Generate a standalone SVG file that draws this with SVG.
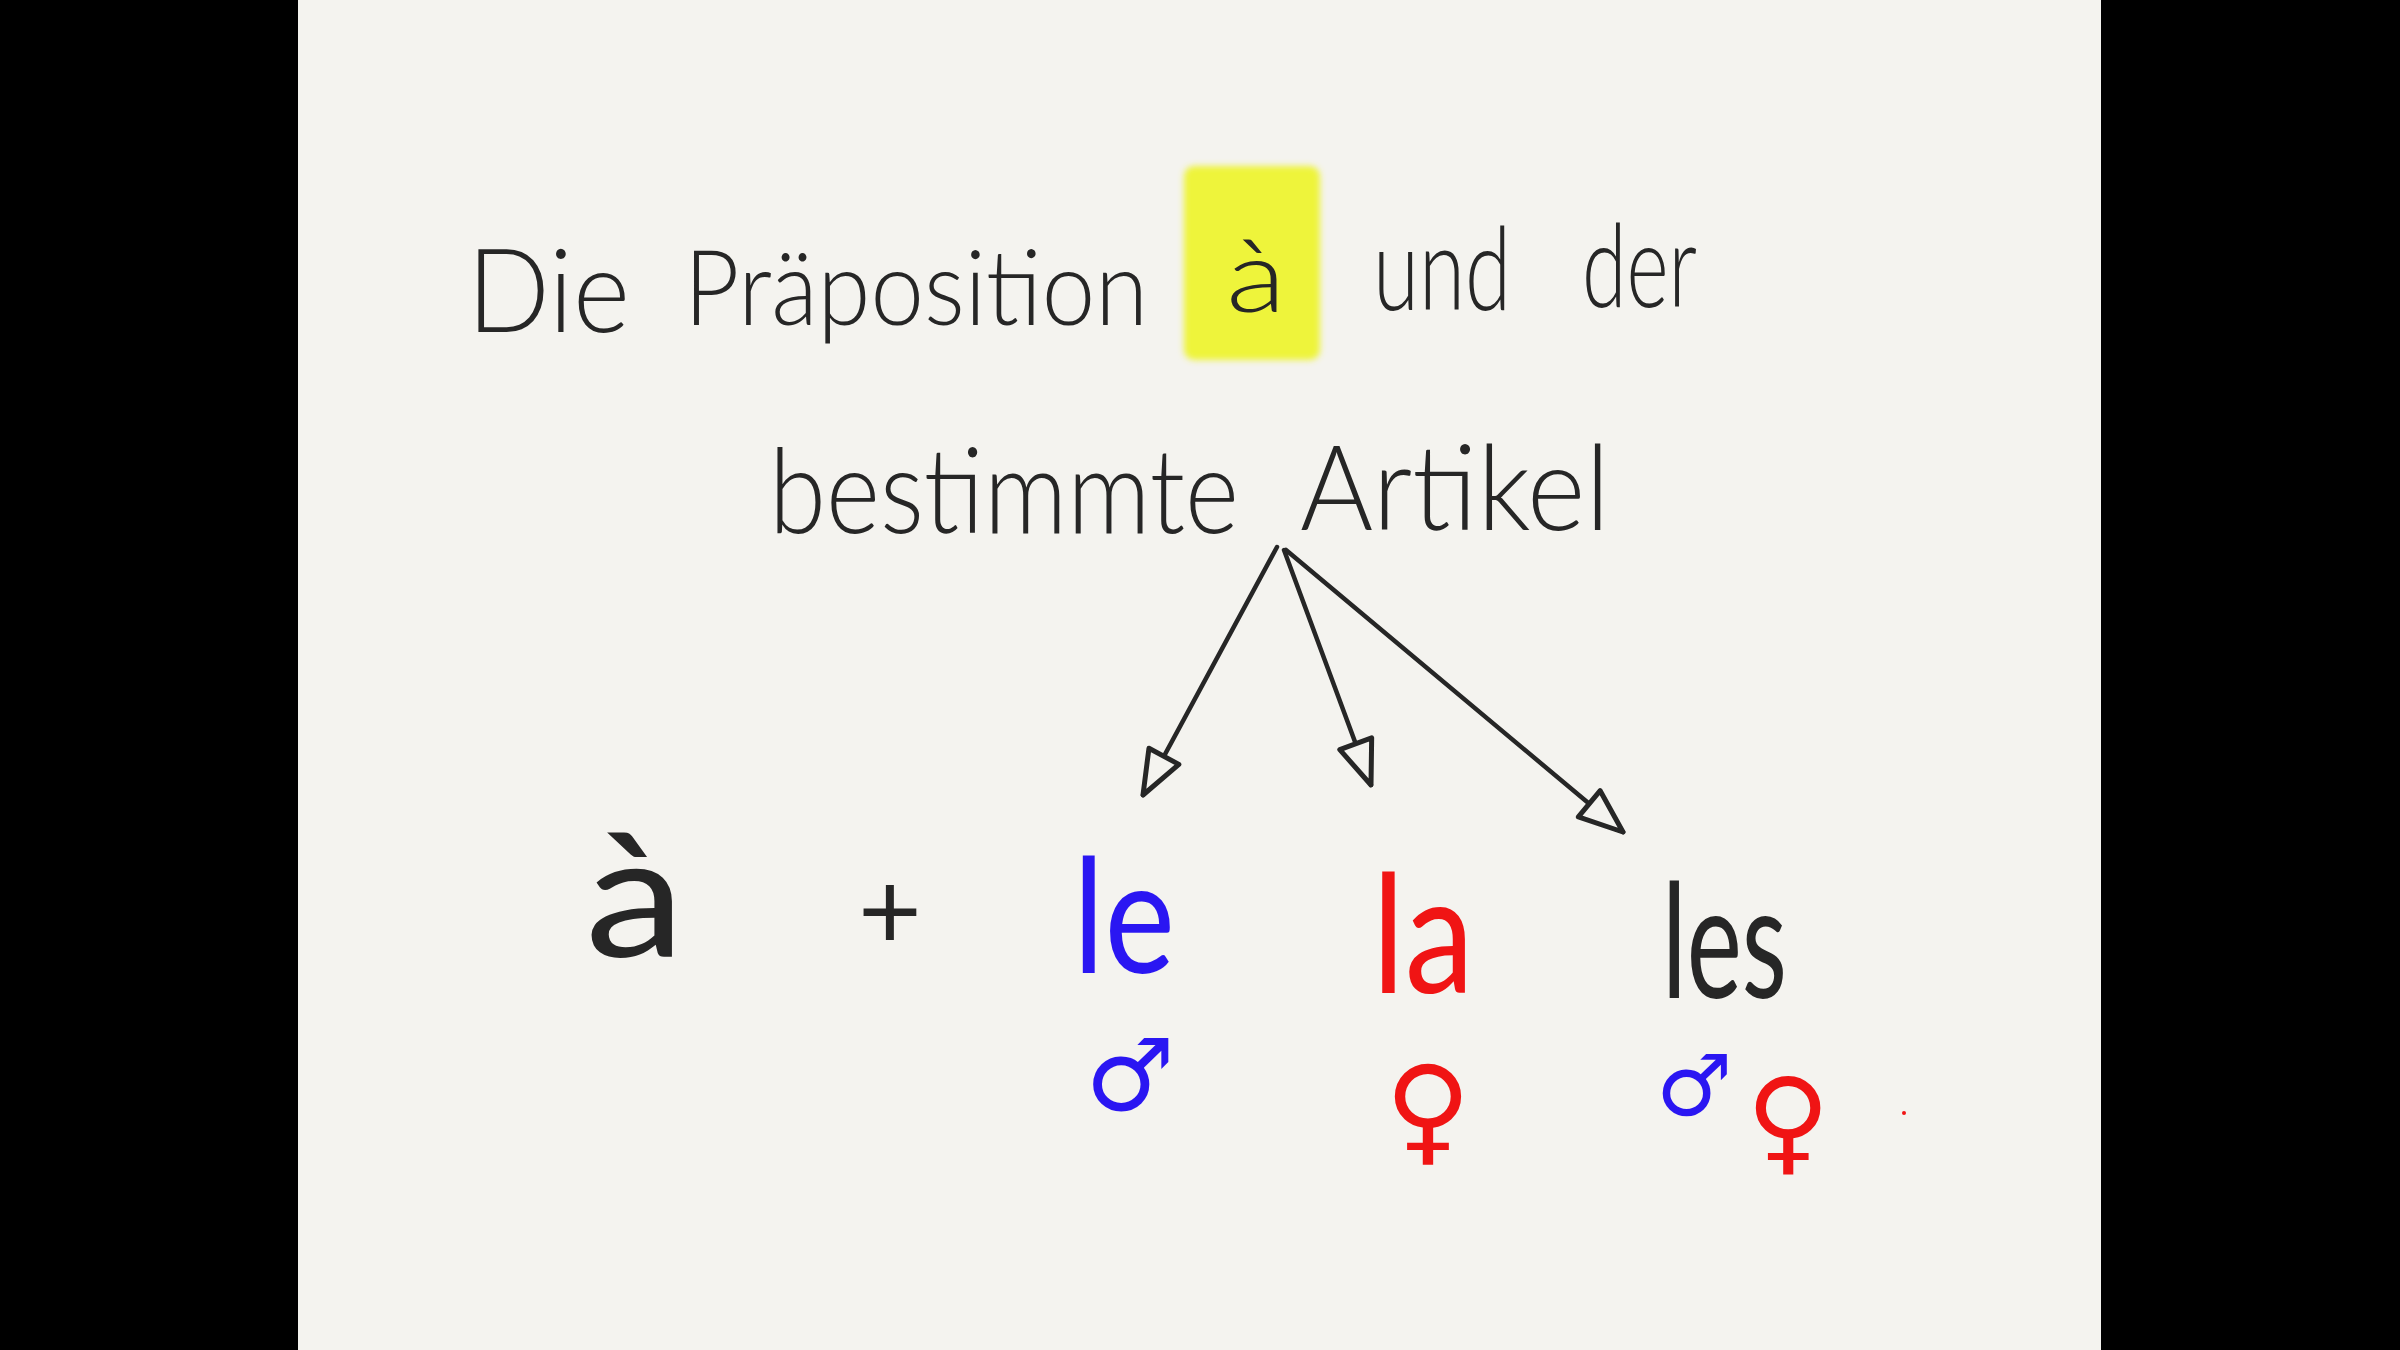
<svg xmlns="http://www.w3.org/2000/svg" width="2400" height="1350" viewBox="0 0 2400 1350">
  <defs>
    <style>
      .hand { font-family: "Lato", "Open Sans", "Liberation Sans", sans-serif; font-weight: 300; fill: #262626; }
      .big { font-family: "Lato", "Open Sans", "Liberation Sans", sans-serif; font-weight: 400; }
      .ink { fill: #262626; }
      .blue { fill: #2a16f2; }
      .red { fill: #f01414; }
      .sym { font-family: "DejaVu Sans", "Noto Sans", sans-serif; }
      .conn { stroke: #262626; stroke-width: 4.5; fill: none; stroke-linecap: round; }
    </style>
    <marker id="openTri" markerUnits="userSpaceOnUse" viewBox="-50 -25 56 50" refX="0" refY="0" markerWidth="56" markerHeight="50" orient="auto" overflow="visible">
      <path d="M-44,-17 L0,0 L-44,17 Z" fill="#f4f3ef" stroke="#262626" stroke-width="5" stroke-linejoin="round"/>
    </marker>
    <filter id="soft" x="-10%" y="-10%" width="120%" height="120%">
      <feGaussianBlur stdDeviation="3"/>
    </filter>
  </defs>

  <!-- background and black side bars -->
  <rect x="0" y="0" width="2400" height="1350" fill="#000"/>
  <rect x="298" y="0" width="1803" height="1350" fill="#f4f3ef"/>

  <!-- title line 1 -->
  <g id="title">
    <rect x="1184" y="166" width="136" height="194" rx="10" fill="#eef43a" filter="url(#soft)"/>
    <text class="hand" x="467" y="332" font-size="116" textLength="163" lengthAdjust="spacingAndGlyphs">Die</text>
    <text class="hand" x="684" y="325" font-size="104" textLength="464" lengthAdjust="spacingAndGlyphs">Präposition</text>
    <text class="hand" x="1226" y="312" font-size="100" textLength="60" lengthAdjust="spacingAndGlyphs">à</text>
    <text class="hand" x="1373" y="310" font-size="116" textLength="138" lengthAdjust="spacingAndGlyphs">und</text>
    <text class="hand" x="1582" y="307" font-size="116" textLength="115" lengthAdjust="spacingAndGlyphs">der</text>
  </g>

  <!-- title line 2 -->
  <g id="subtitle">
    <text class="hand" x="769" y="533" font-size="118" textLength="470" lengthAdjust="spacingAndGlyphs">bestimmte</text>
    <text class="hand" x="1300" y="530" font-size="118" textLength="310" lengthAdjust="spacingAndGlyphs">Artikel</text>
  </g>

  <!-- connectors -->
  <g id="connectors">
    <line class="conn" x1="1277" y1="547" x2="1143" y2="795" marker-end="url(#openTri)"/>
    <line class="conn" x1="1284" y1="550" x2="1371" y2="785" marker-end="url(#openTri)"/>
    <line class="conn" x1="1286" y1="550" x2="1623" y2="832" marker-end="url(#openTri)"/>
  </g>

  <!-- à + -->
  <g id="a-grave">
    <text class="big ink" x="585" y="957" font-size="170" textLength="100" lengthAdjust="spacingAndGlyphs">à</text>
  </g>
  <g id="plus">
    <text class="big ink" x="890" y="950" font-size="110" text-anchor="middle">+</text>
  </g>

  <!-- le -->
  <g id="le">
    <text class="big blue" x="1073" y="973" font-size="160" textLength="102" lengthAdjust="spacingAndGlyphs">le</text>
    <text class="sym blue" x="1130" y="1110" font-size="100" text-anchor="middle">♂</text>
  </g>

  <!-- la -->
  <g id="la">
    <text class="big red" x="1372" y="993" font-size="165" textLength="102" lengthAdjust="spacingAndGlyphs">la</text>
    <text class="sym red" x="1428" y="1150" font-size="118" text-anchor="middle">♀</text>
  </g>

  <!-- les -->
  <g id="les">
    <text class="big ink" x="1662" y="998" font-size="160" textLength="125" lengthAdjust="spacingAndGlyphs">les</text>
    <text class="sym blue" x="1694" y="1115" font-size="85" text-anchor="middle">♂</text>
    <text class="sym red" x="1788" y="1160" font-size="115" text-anchor="middle">♀</text>
  </g>

  <circle cx="1904" cy="1113" r="2" fill="#f01414"/>
</svg>
